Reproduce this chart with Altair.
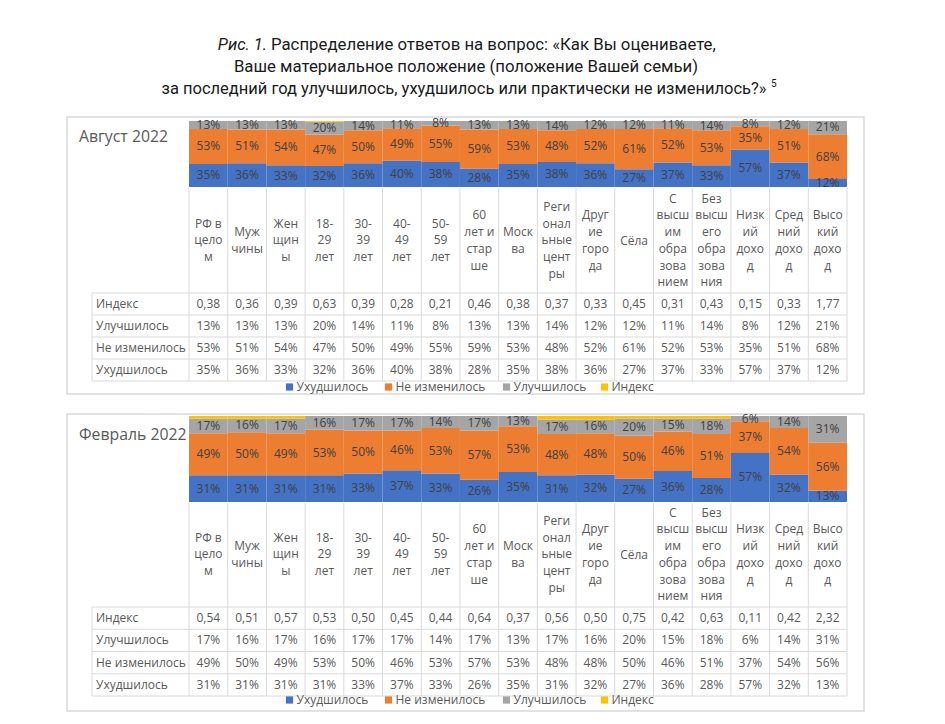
import altair as alt
import pandas as pd

# ---------------- data ----------------
categories = ["РФ в целом", "Мужчины", "Женщины", "18-29 лет", "30-39 лет", "40-49 лет",
              "50-59 лет", "60 лет и старше", "Москва", "Региональные центры", "Другие города",
              "Сёла", "С высшим образованием", "Без высшего образования", "Низкий доход",
              "Средний доход", "Высокий доход"]
category_lines = ["РФ в\nцело\nм", "Муж\nчины", "Жен\nщин\nы", "18-\n29\nлет", "30-\n39\nлет",
                  "40-\n49\nлет", "50-\n59\nлет", "60\nлет и\nстар\nше", "Моск\nва",
                  "Реги\nонал\nьные\nцент\nры", "Друг\nие\nгоро\nда", "Сёла",
                  "С\nвысш\nим\nобра\nзова\nнием", "Без\nвысш\nего\nобра\nзова\nния",
                  "Низк\nий\nдохо\nд", "Сред\nний\nдохо\nд", "Высо\nкий\nдохо\nд"]

series = ["Ухудшилось", "Не изменилось", "Улучшилось", "Индекс"]
table_rows = ["Индекс", "Улучшилось", "Не изменилось", "Ухудшилось"]
colors = ["#4472C4", "#ED7D31", "#A5A5A5", "#FFC000"]

aug_index = [0.38, 0.36, 0.39, 0.63, 0.39, 0.28, 0.21, 0.46, 0.38, 0.37, 0.33, 0.45, 0.31, 0.43, 0.15, 0.33, 1.77]
aug_better = [13, 13, 13, 20, 14, 11, 8, 13, 13, 14, 12, 12, 11, 14, 8, 12, 21]
aug_same = [53, 51, 54, 47, 50, 49, 55, 59, 53, 48, 52, 61, 52, 53, 35, 51, 68]
aug_worse = [35, 36, 33, 32, 36, 40, 38, 28, 35, 38, 36, 27, 37, 33, 57, 37, 12]

feb_index = [0.54, 0.51, 0.57, 0.53, 0.50, 0.45, 0.44, 0.64, 0.37, 0.56, 0.50, 0.75, 0.42, 0.63, 0.11, 0.42, 2.32]
feb_better = [17, 16, 17, 16, 17, 17, 14, 17, 13, 17, 16, 20, 15, 18, 6, 14, 31]
feb_same = [49, 50, 49, 53, 50, 46, 53, 57, 53, 48, 48, 50, 46, 51, 37, 54, 56]
feb_worse = [31, 31, 31, 31, 33, 37, 33, 26, 35, 31, 32, 27, 36, 28, 57, 32, 13]

title_italic = "Рис. 1."
title_line1 = "Распределение ответов на вопрос: «Как Вы оцениваете,"
title_line2 = "Ваше материальное положение (положение Вашей семьи)"
title_line3 = "за последний год улучшилось, ухудшилось или практически не изменилось?»"
footnote_mark = "5"


def long_df(index, better, same, worse):
    recs = []
    for i, c in enumerate(categories):
        vals = {"Ухудшилось": worse[i] / 100, "Не изменилось": same[i] / 100,
                "Улучшилось": better[i] / 100, "Индекс": index[i]}
        for k, s in enumerate(series):
            recs.append({"cat": c, "series": s, "ord": k, "value": vals[s]})
    return pd.DataFrame(recs)


FONT = "Open Sans"
TFONT = "Roboto"
GRAY_TXT = "#595959"
GRID = "#D9D9D9"
X0, X1 = 181, 839
ROWLAB_X = 84
LH = 16.7
TS = 12

one = pd.DataFrame({"k": [0]})
cat_df = pd.DataFrame({"cat": categories, "lines": category_lines,
                       "n": [s.count("\n") + 1 for s in category_lines]})
legend_df = pd.DataFrame({"series": series, "ord": list(range(len(series)))})


def xscale():
    return alt.Scale(domain=categories, range=[X0, X1], paddingInner=0, paddingOuter=0)


def panel(df, title, g):
    layers = []
    # outer box
    layers.append(alt.Chart(one).mark_rect(fillOpacity=0, stroke=GRID, strokeWidth=1.5).encode(
        x=alt.value(g["box"][0]), x2=alt.value(g["box"][2]),
        y=alt.value(g["box"][1]), y2=alt.value(g["box"][3])))
    # panel title
    layers.append(alt.Chart(one).mark_text(text=title, font=FONT, fontSize=15.8, color=GRAY_TXT,
                                           align="left", baseline="middle").encode(
        x=alt.value(71), y=alt.value(g["title_y"])))

    yb = alt.Scale(domain=[0, 1], range=[g["bar_bottom"], g["bar_top"]], clamp=True, nice=False, zero=False)
    base = alt.Chart(df)
    layers.append(base.mark_bar(strokeWidth=0).encode(
        x=alt.X("cat:N", scale=xscale(), axis=None, sort=categories),
        y=alt.Y("value:Q", stack="zero", scale=yb, axis=None),
        color=alt.Color("series:N", scale=alt.Scale(domain=series, range=colors), legend=None),
        order=alt.Order("ord:Q", sort="ascending")))
    # segment labels
    layers.append(base.transform_filter("datum.series != 'Индекс'").transform_stack(
        stack="value", groupby=["cat"], as_=["v0", "v1"],
        sort=[alt.SortField("ord", order="ascending")]).transform_calculate(
        mid="(datum.v0 + datum.v1) / 2").mark_text(font=FONT, fontSize=12, color="#404040").encode(
        x=alt.X("cat:N", scale=xscale(), axis=None),
        y=alt.Y("mid:Q", scale=yb, axis=None),
        text=alt.Text("value:Q", format=".0%")))

    # category labels (multi-line, centred in the cell)
    layers.append(alt.Chart(cat_df).transform_calculate(
        ly=f"{g['cat_y']} - (datum.n - 1) * {LH} / 2"
    ).mark_text(font=FONT, fontSize=TS, color=GRAY_TXT, lineBreak="\n",
                lineHeight=LH, baseline="middle").encode(
        x=alt.X("cat:N", scale=xscale(), axis=None),
        y=alt.Y("ly:Q", scale=None, axis=None),
        text="lines:N"))

    rs = alt.Scale(domain=table_rows, range=[g["row_top"], g["row_bot"]], paddingInner=0, paddingOuter=0)
    # table values
    layers.append(base.transform_calculate(
        txt="datum.series == 'Индекс' ? replace(format(datum.value, '.2f'), '.', ',') : format(datum.value, '.0%')"
    ).mark_text(font=FONT, fontSize=TS, color=GRAY_TXT, baseline="middle").encode(
        x=alt.X("cat:N", scale=xscale(), axis=None),
        y=alt.Y("series:N", scale=rs, axis=None),
        text="txt:N"))
    # row labels
    layers.append(alt.Chart(pd.DataFrame({"series": table_rows})).mark_text(
        font=FONT, fontSize=TS, color=GRAY_TXT, align="left", baseline="middle").encode(
        x=alt.value(ROWLAB_X + 4),
        y=alt.Y("series:N", scale=rs, axis=None),
        text="series:N"))

    # grid: vertical lines
    layers.append(alt.Chart(cat_df).mark_rule(color=GRID, strokeWidth=1).encode(
        x=alt.X("cat:N", scale=xscale(), axis=None, bandPosition=0),
        y=alt.value(g["grid_top"]), y2=alt.value(g["row_bot"])))
    layers.append(alt.Chart(cat_df.tail(1)).mark_rule(color=GRID, strokeWidth=1).encode(
        x=alt.X("cat:N", scale=xscale(), axis=None, bandPosition=1),
        y=alt.value(g["grid_top"]), y2=alt.value(g["row_bot"])))
    layers.append(alt.Chart(one).mark_rule(color=GRID, strokeWidth=1).encode(
        x=alt.value(ROWLAB_X), y=alt.value(g["row_top"]), y2=alt.value(g["row_bot"])))
    # grid: horizontal lines
    rows_df = pd.DataFrame({"series": table_rows})
    layers.append(alt.Chart(rows_df).mark_rule(color=GRID, strokeWidth=1).encode(
        y=alt.Y("series:N", scale=rs, axis=None, bandPosition=0),
        x=alt.value(ROWLAB_X), x2=alt.value(X1)))
    layers.append(alt.Chart(rows_df.tail(1)).mark_rule(color=GRID, strokeWidth=1).encode(
        y=alt.Y("series:N", scale=rs, axis=None, bandPosition=1),
        x=alt.value(ROWLAB_X), x2=alt.value(X1)))

    # legend (squares + labels), entries placed by a piecewise scale
    lx = alt.Scale(domain=[0, 1, 2, 3], range=[281.5, 380.5, 498.5, 596.5], nice=False, zero=False)
    layers.append(alt.Chart(legend_df).mark_square(size=52, opacity=1, strokeWidth=0).encode(
        x=alt.X("ord:Q", scale=lx, axis=None),
        y=alt.value(g["legend_y"]),
        color=alt.Color("series:N", scale=alt.Scale(domain=series, range=colors), legend=None)))
    layers.append(alt.Chart(legend_df).mark_text(font=FONT, fontSize=TS, color=GRAY_TXT, align="left",
                                                 baseline="middle", dx=7).encode(
        x=alt.X("ord:Q", scale=lx, axis=None),
        y=alt.value(g["legend_y"]),
        text="series:N"))
    return layers


g1 = dict(box=(59, 109, 856, 386), bar_bottom=179, bar_top=113, title_y=129, cat_y=232.5,
          grid_top=180, row_top=285, row_bot=373, legend_y=379)
g2 = dict(box=(59, 406, 856, 703), bar_bottom=494, bar_top=408, title_y=427, cat_y=546.5,
          grid_top=495, row_top=599, row_bot=688, legend_y=692)

title_layers = [
    alt.Chart(one).mark_text(text=title_italic, font=TFONT, fontSize=16.5, fontStyle="italic",
                             color="#1a1a1a", align="right", baseline="middle").encode(
        x=alt.value(259), y=alt.value(37)),
    alt.Chart(one).mark_text(text=title_line1, font=TFONT, fontSize=16.8, color="#1a1a1a",
                             align="left", baseline="middle").encode(x=alt.value(263), y=alt.value(37)),
    alt.Chart(one).mark_text(text=title_line2, font=TFONT, fontSize=16.8, color="#1a1a1a",
                             align="center", baseline="middle").encode(x=alt.value(458), y=alt.value(59)),
    alt.Chart(one).mark_text(text=title_line3, font=TFONT, fontSize=16.5, color="#1a1a1a",
                             align="center", baseline="middle").encode(x=alt.value(456), y=alt.value(81)),
    alt.Chart(one).mark_text(text=footnote_mark, font=TFONT, fontSize=10, color="#1a1a1a",
                             align="left", baseline="middle").encode(x=alt.value(763), y=alt.value(76)),
]

layers = title_layers + panel(long_df(aug_index, aug_better, aug_same, aug_worse), "Август 2022", g1) \
    + panel(long_df(feb_index, feb_better, feb_same, feb_worse), "Февраль 2022", g2)

chart = alt.layer(*layers).properties(
    width=929, height=708, padding=0, autosize="none"
).resolve_scale(x="independent", y="independent", color="independent").configure_view(stroke=None)

chart.save("out.html", embed_options={"renderer": "svg", "actions": False})
